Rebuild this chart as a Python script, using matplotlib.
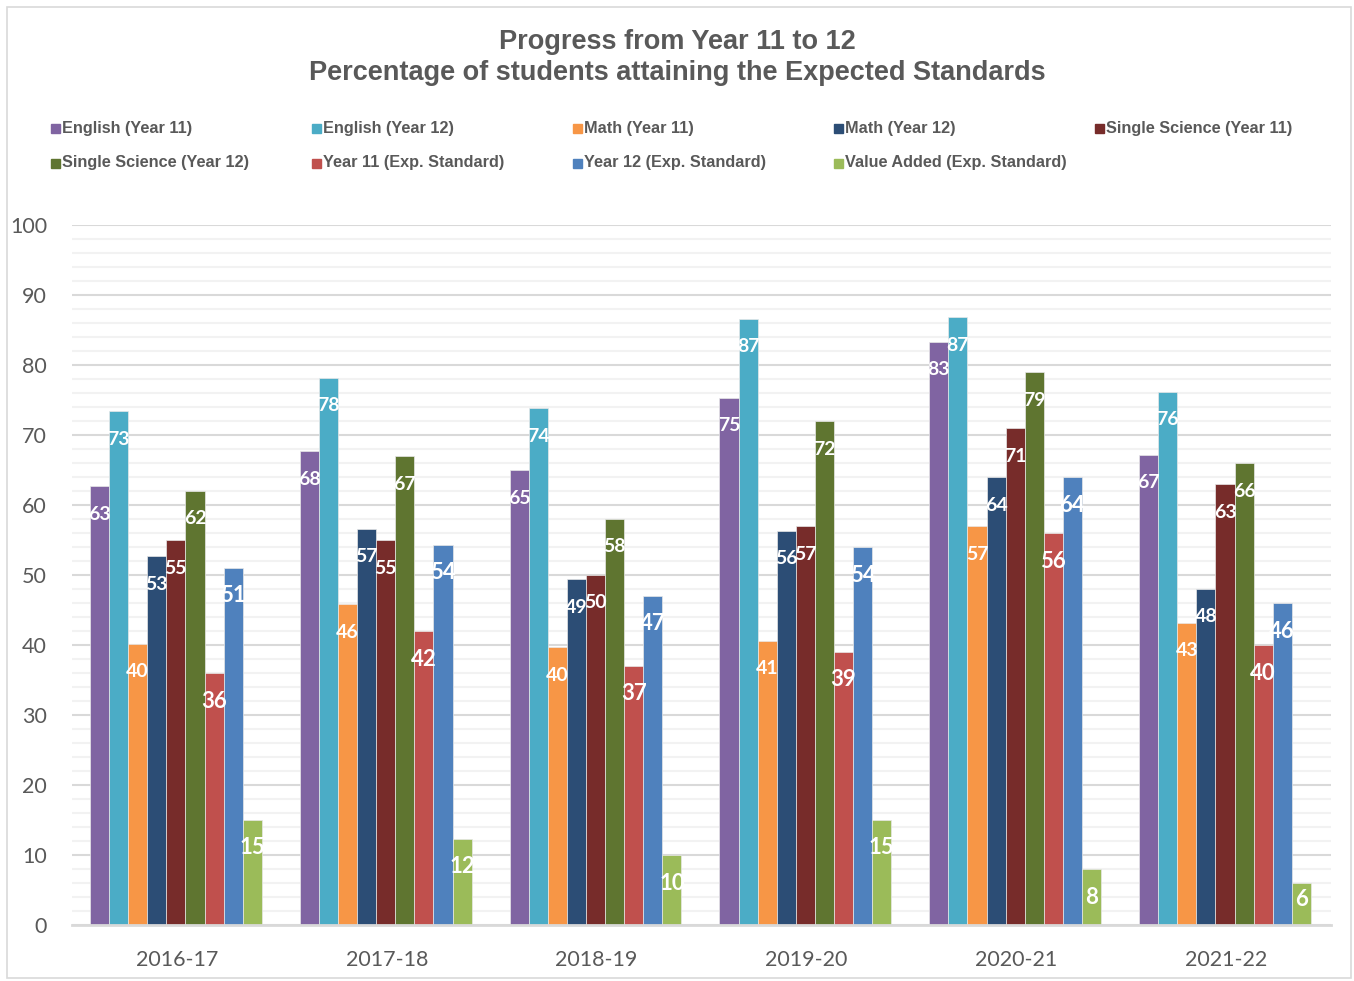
import matplotlib.pyplot as plt
from matplotlib.patches import Rectangle
import numpy as np

years = ['2016-17', '2017-18', '2018-19', '2019-20', '2020-21', '2021-22']
series_names = ['English (Year 11)', 'English (Year 12)', 'Math (Year 11)', 'Math (Year 12)',
                'Single Science (Year 11)', 'Single Science (Year 12)', 'Year 11 (Exp. Standard)',
                'Year 12 (Exp. Standard)', 'Value Added (Exp. Standard)']
eng11 = [62.7, 67.7, 65.0, 75.3, 83.3, 67.2]
eng12 = [73.4, 78.2, 73.8, 86.6, 86.8, 76.2]
math11 = [40.2, 45.8, 39.7, 40.6, 57.0, 43.2]
math12 = [52.7, 56.6, 49.4, 56.3, 64.0, 48.0]
sci11 = [55, 55, 50, 57, 71, 63]
sci12 = [62, 67, 58, 72, 79, 66]
y11_exp = [36, 42, 37, 39, 56, 40]
y12_exp = [51, 54.3, 47, 54, 64, 46]
value_added = [15, 12.3, 10, 15, 8, 6]
colors = ['#8064A2', '#4BACC6', '#F79646', '#2C4D75', '#772C2A', '#5F7530',
          '#C0504D', '#4F81BD', '#9BBB59']

all_series = [eng11, eng12, math11, math12, sci11, sci12, y11_exp, y12_exp, value_added]

title_font = ['Liberation Sans Narrow', 'Liberation Sans', 'DejaVu Sans']
grey = '#595959'

fig = plt.figure(figsize=(13.54, 9.81), dpi=100)
fig.patches.append(Rectangle((7 / 1354, 3 / 981), 1344 / 1354, 971 / 981, transform=fig.transFigure,
                             fill=False, ec='#D9D9D9', lw=1.2))
ax = fig.add_axes([72 / 1354, 1 - 925 / 981, 1259 / 1354, 700 / 981])

x = np.arange(len(years))
w = 0.091
for i, (vals, c) in enumerate(zip(all_series, colors)):
    pos = x + (i - 4) * w - 0.005
    ax.bar(pos, vals, w, color=c, edgecolor='#e8e8e8', linewidth=0.5, zorder=3)
    big = i >= 6
    for px_, v in zip(pos, vals):
        ax.text(px_, max(v - 4.0, 3.7), f'{v:.0f}', ha='center', va='center', color='white',
                fontsize=16 if big else 14, fontweight='bold', family='Lato', zorder=4)

ax.set_xlim(-0.5, 5.5)
ax.set_ylim(0, 100)
ax.set_yticks(np.arange(0, 101, 10))
ax.set_yticks(np.arange(0, 101, 2), minor=True)
ax.grid(axis='y', which='major', color='#D9D9D9', lw=1.5, zorder=1)
ax.grid(axis='y', which='minor', color='#F2F2F2', lw=1.5, zorder=0)
ax.set_xticks(x)
ax.set_xticklabels(years)
ax.tick_params(axis='both', which='both', length=0, labelsize=15.5, labelcolor=grey)
ax.tick_params(axis='y', pad=18)
ax.tick_params(axis='x', pad=18)
for lab in ax.get_xticklabels() + ax.get_yticklabels():
    lab.set_family('Lato')
for s in ['left', 'right', 'top']:
    ax.spines[s].set_visible(False)
ax.spines['bottom'].set_color('#D9D9D9')
ax.spines['bottom'].set_linewidth(2)
ax.spines['bottom'].set_zorder(5)

fig.text(0.5, 1 - 42 / 981, 'Progress from Year 11 to 12', ha='center', va='center',
         fontsize=19.5, fontweight='bold', color=grey, family=title_font)
fig.text(0.5, 1 - 73 / 981, 'Percentage of students attaining the Expected Standards', ha='center',
         va='center', fontsize=19.5, fontweight='bold', color=grey, family=title_font)

# legend laid out like Excel: 5 equal columns, row-major order
for k, (name, c) in enumerate(zip(series_names, colors)):
    row, col = divmod(k, 5)
    lx = 51 + col * 261
    ly = 128 + row * 35
    fig.patches.append(Rectangle((lx / 1354, 1 - (ly + 4.5) / 981), 9 / 1354, 9 / 981,
                                 transform=fig.transFigure, color=c))
    fig.text((lx + 11) / 1354, 1 - ly / 981, name, ha='left', va='center', fontsize=11.7,
             fontweight='bold', color=grey, family=title_font)

fig.savefig('out.png', dpi=100)
